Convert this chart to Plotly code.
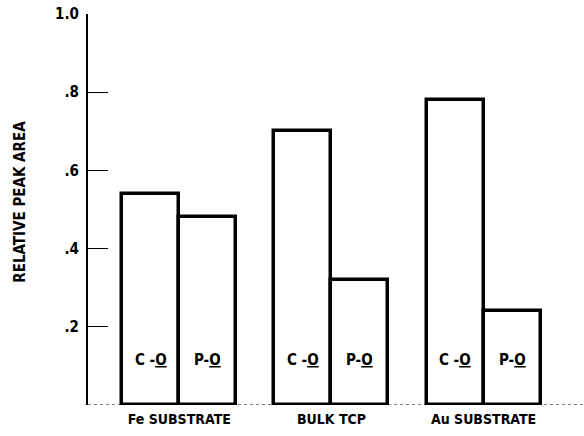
import plotly.graph_objects as go

groups = ["Fe SUBSTRATE", "BULK TCP", "Au SUBSTRATE"]
co_values = [0.54, 0.70, 0.78]
po_values = [0.48, 0.32, 0.24]
bond_labels = ["C -<u>O</u>", "P-<u>O</u>"]
y_ticks = [0.2, 0.4, 0.6, 0.8, 1.0]
y_tick_labels = [".2", ".4", ".6", ".8", "1.0"]

W = 0.375
FONT = "DejaVu Sans Condensed"
xs = list(range(len(groups)))
x_co = [i - W / 2 for i in xs]
x_po = [i + W / 2 for i in xs]

fig = go.Figure()
for xv, yv in ((x_co, co_values), (x_po, po_values)):
    fig.add_trace(go.Bar(
        x=xv, y=yv, width=W,
        marker=dict(color="white", line=dict(color="black", width=3.5)),
        showlegend=False, hoverinfo="skip",
    ))

ann = []
for xv, lab in ((x_co, bond_labels[0]), (x_po, bond_labels[1])):
    for x in xv:
        ann.append(dict(x=x, y=0.115, xref="x", yref="y", text="<b>" + lab + "</b>",
                        showarrow=False, font=dict(family=FONT, size=15, color="black")))

fig.update_layout(
    width=584, height=436,
    margin=dict(l=88, r=0, t=14, b=31),
    paper_bgcolor="white", plot_bgcolor="white",
    bargap=0, barmode="overlay",
    annotations=ann + [dict(
        x=0, y=0.52, xref="paper", yref="paper", text="<b>RELATIVE PEAK AREA</b>",
        textangle=-90, showarrow=False, xanchor="center", yanchor="middle",
        font=dict(family=FONT, size=15, color="black"), xshift=-68)],
    xaxis=dict(range=[-0.6, 2.66], tickvals=xs, ticktext=["<b>%s</b>" % g for g in groups],
               showgrid=False, zeroline=False, showline=False, ticks="",
               ticklabelstandoff=4,
               tickfont=dict(family=FONT, size=14, color="black")),
    yaxis=dict(range=[0, 1.0], tickvals=y_ticks, ticktext=["<b>%s</b>" % t for t in y_tick_labels],
               showgrid=False, zeroline=False, showline=True, linecolor="black", linewidth=2,
               ticks="inside", ticklen=20, tickcolor="black", tickwidth=1,
               ticklabelstandoff=4,
               tickfont=dict(family=FONT, size=15, color="black")),
    shapes=[dict(type="line", xref="paper", yref="y", x0=0, x1=1, y0=0, y1=0,
                 line=dict(color="black", width=1.2, dash="dot"))],
)

fig.write_html("out.html")
